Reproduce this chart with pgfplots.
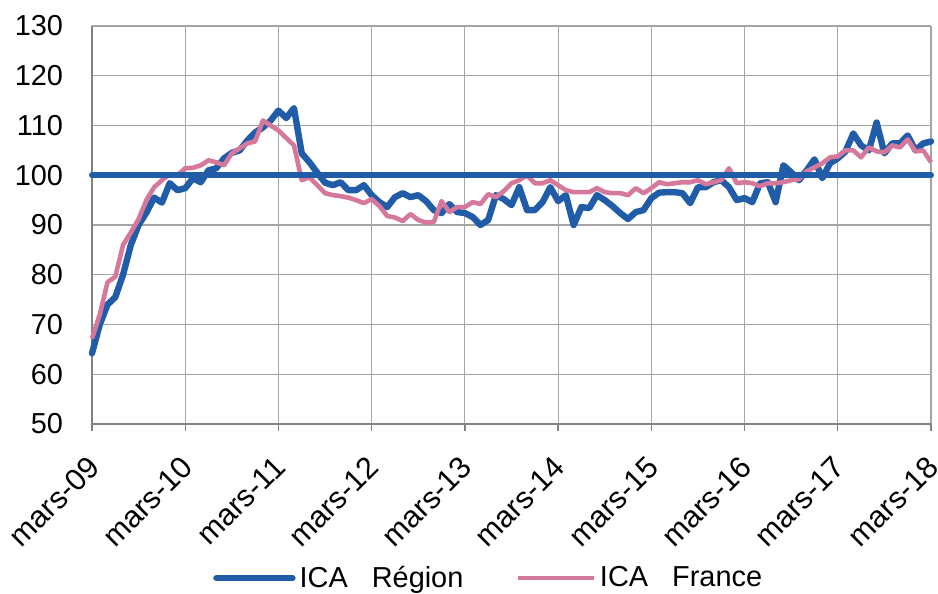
\documentclass[border=0pt]{standalone}
\usepackage{pgfplots}
\pgfplotsset{compat=1.18}
\usetikzlibrary{calc}
\usepackage{fontspec}
\setmainfont{Liberation Sans}
\definecolor{regblue}{RGB}{32,92,168}
\definecolor{frpink}{RGB}{214,120,156}
\definecolor{gridgray}{RGB}{165,165,165}
\definecolor{axgray}{RGB}{130,130,130}
\begin{document}
\begin{tikzpicture}
\begin{axis}[
  scale only axis,
  width=419.5bp, height=199bp,
  xmin=0, xmax=108, ymin=50, ymax=130,
  xtick={0,12,...,108},
  xticklabels={mars-09,mars-10,mars-11,mars-12,mars-13,mars-14,mars-15,mars-16,mars-17,mars-18},
  ytick={50,60,...,130},
  tick label style={font=\fontsize{14.5}{16}\selectfont},
  x tick label style={xshift=-3bp, yshift=-10bp, rotate=45, anchor=north east, inner sep=1pt, font=\fontsize{15.3}{17}\selectfont},
  y tick label style={xshift=-11bp},
  /pgf/number format/assume math mode=true,
  axis x line*=bottom, axis y line*=left,
  axis line style={draw=axgray, line width=0.7bp, -},
  grid=major,
  major grid style={draw=gridgray, line width=0.6bp},
  x tick style={draw=axgray, line width=0.7bp},
  y tick style={draw=none},
  major tick length=3.5bp,
  xtick align=outside,
  clip=false,
  legend style={at={(0.474,-0.387)}, anchor=center, draw=none, fill=none,
    font=\fontsize{14.5}{16}\selectfont, legend columns=2,
    /tikz/every even column/.append style={column sep=24bp}},
  legend cell align=left,
  legend image code/.code={\draw[#1] (0bp,0bp) -- (38bp,0bp);},
]
\coordinate (ll) at (rel axis cs:0,0);
\coordinate (ur) at (rel axis cs:1,1);
\addplot[regblue, line width=3.2bp, line join=round, line cap=round] coordinates {
(0,64.2)(1,70)(2,74)(3,75.5)(4,80)(5,86)(6,90)(7,92.5)(8,95.5)(9,94.5)
(10,98.4)(11,97)(12,97.4)(13,99.4)(14,98.6)(15,101)(16,101.4)(17,103.4)(18,104.5)(19,105)
(20,107)(21,108.6)(22,109.6)(23,111)(24,113)(25,111.5)(26,113.5)(27,104.4)(28,102.6)(29,100.5)
(30,98.5)(31,98)(32,98.6)(33,97)(34,97)(35,98)(36,96)(37,94.6)(38,93.6)(39,95.6)
(40,96.4)(41,95.6)(42,96)(43,94.8)(44,93)(45,92.4)(46,94.2)(47,92.6)(48,92.4)(49,91.6)
(50,90)(51,91)(52,96)(53,95.2)(54,94)(55,97.6)(56,93)(57,93)(58,94.6)(59,97.6)
(60,94.8)(61,96)(62,90)(63,93.6)(64,93.4)(65,96)(66,95)(67,93.8)(68,92.4)(69,91.2)
(70,92.6)(71,93)(72,95.4)(73,96.5)(74,96.6)(75,96.6)(76,96.4)(77,94.4)(78,97.6)(79,97.6)
(80,98.6)(81,99)(82,97.6)(83,95)(84,95.4)(85,94.6)(86,98.4)(87,98.6)(88,94.6)(89,102)
(90,100.6)(91,99)(92,101)(93,103.2)(94,99.4)(95,102.4)(96,103.4)(97,104.8)(98,108.4)(99,106)
(100,105)(101,110.6)(102,104.4)(103,106.4)(104,106.4)(105,108)(106,105)(107,106.4)(108,106.8)
};
\addlegendentry{ICA\ \ \ Région}
\addplot[frpink, line width=2.3bp, line join=round] coordinates {
(0,67.2)(1,72)(2,78.5)(3,79.6)(4,86)(5,88.5)(6,91.2)(7,95)(8,97.6)(9,99)
(10,100.2)(11,100)(12,101.4)(13,101.5)(14,102)(15,103)(16,102.6)(17,102)(18,104.4)(19,105.4)
(20,106.4)(21,106.8)(22,111)(23,110)(24,109)(25,107.5)(26,106)(27,99)(28,99.6)(29,98)
(30,96.4)(31,96)(32,95.8)(33,95.5)(34,95)(35,94.4)(36,95.2)(37,93.8)(38,91.8)(39,91.5)
(40,90.8)(41,92.2)(42,91)(43,90.5)(44,90.6)(45,94.8)(46,92.6)(47,93.6)(48,93.6)(49,94.6)
(50,94.2)(51,96.2)(52,95.6)(53,96.8)(54,98.4)(55,99)(56,100)(57,98.4)(58,98.4)(59,99)
(60,98)(61,97)(62,96.6)(63,96.6)(64,96.6)(65,97.4)(66,96.6)(67,96.4)(68,96.4)(69,96)
(70,97.4)(71,96.4)(72,97.4)(73,98.6)(74,98.2)(75,98.4)(76,98.6)(77,98.6)(78,99)(79,98.2)
(80,98.6)(81,99)(82,101.4)(83,98.4)(84,98.6)(85,98.4)(86,97.8)(87,98.4)(88,98.4)(89,98.6)
(90,99)(91,99.2)(92,100.8)(93,101.6)(94,102.4)(95,103.6)(96,103.8)(97,105)(98,105)(99,103.6)
(100,105.6)(101,104.8)(102,104.6)(103,106)(104,105.6)(105,107.2)(106,104.8)(107,105)(108,102.6)
};
\addlegendentry{ICA\ \ \ France}
\addplot[regblue, line width=3bp, line cap=round, forget plot] coordinates {(0,100)(108,100)};
\end{axis}
\pgfresetboundingbox
\path[use as bounding box] ($(ll)+(-46bp,-85bp)$) rectangle ($(ur)+(3.5bp,13bp)$);
\end{tikzpicture}
\end{document}
